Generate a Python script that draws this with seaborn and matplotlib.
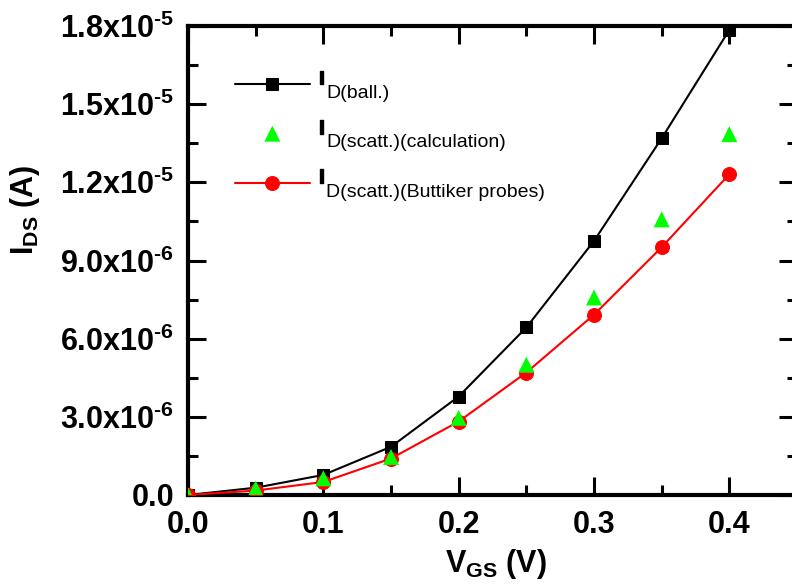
import matplotlib
matplotlib.use("Agg")
import matplotlib.pyplot as plt
import matplotlib.patheffects as pe
import seaborn as sns
from matplotlib.ticker import FixedLocator, FixedFormatter, MultipleLocator
from matplotlib.transforms import Affine2D, IdentityTransform

# ---- data ----
vgs = [0.0, 0.05, 0.10, 0.15, 0.20, 0.25, 0.30, 0.35, 0.40]
id_ball = [0.0, 0.28e-6, 0.77e-6, 1.85e-6, 3.78e-6, 6.43e-6, 9.75e-6, 13.69e-6, 17.85e-6]
id_scatt_calc = [0.0, 0.25e-6, 0.64e-6, 1.46e-6, 2.96e-6, 5.00e-6, 7.58e-6, 10.58e-6, 13.85e-6]
id_scatt_probe = [0.0, 0.17e-6, 0.50e-6, 1.40e-6, 2.82e-6, 4.70e-6, 6.92e-6, 9.51e-6, 12.31e-6]

legend_main = "I"
series_subs = ["D(ball.)", "D(scatt.)(calculation)", "D(scatt.)(Buttiker probes)"]

xticks = [0.0, 0.1, 0.2, 0.3, 0.4]
xtick_labels = ["0.0", "0.1", "0.2", "0.3", "0.4"]
yticks = [0.0, 3.0e-6, 6.0e-6, 9.0e-6, 1.2e-5, 1.5e-5, 1.8e-5]
ytick_labels = ["0.0", "3.0x10$^{\u20106}$", "6.0x10$^{\u20106}$", "9.0x10$^{\u20106}$",
                "1.2x10$^{\u20105}$", "1.5x10$^{\u20105}$", "1.8x10$^{\u20105}$"]

sns.set_style("ticks")
plt.rcParams["font.family"] = ["Liberation Sans", "DejaVu Sans"]
plt.rcParams["font.weight"] = "bold"
plt.rcParams["mathtext.fontset"] = "custom"
plt.rcParams["mathtext.bf"] = "Liberation Sans:bold"
plt.rcParams["mathtext.rm"] = "Liberation Sans:bold"
plt.rcParams["mathtext.default"] = "bf"
for k in ["text.color", "axes.labelcolor", "xtick.color", "ytick.color", "axes.edgecolor"]:
    plt.rcParams[k] = "black"

fig = plt.figure(figsize=(7.92, 5.86), dpi=100)
ax = fig.add_axes([188 / 792, (586 - 495) / 586, (797 - 188) / 792, (495 - 26) / 586])

sns.lineplot(x=vgs, y=id_ball, color="black", marker="s", markersize=9,
             markeredgecolor="black", linewidth=1.5, label=series_subs[0],
             ax=ax, zorder=2)
sns.scatterplot(x=vgs, y=id_scatt_calc, color="#00ff00", marker="^", s=11.5 ** 2,
                edgecolor="none", linewidth=0, label=series_subs[1], ax=ax, zorder=4)
sns.lineplot(x=vgs, y=id_scatt_probe, color="red", marker="o", markersize=10,
             markeredgecolor="red", linewidth=1.5, label=series_subs[2],
             ax=ax, zorder=3)

ax.set_xlim(0, 0.45)
ax.set_ylim(0, 1.8e-5)
ax.xaxis.set_major_locator(FixedLocator(xticks))
ax.xaxis.set_major_formatter(FixedFormatter(xtick_labels))
ax.xaxis.set_minor_locator(MultipleLocator(0.05))
ax.yaxis.set_major_locator(FixedLocator(yticks))
ax.yaxis.set_major_formatter(FixedFormatter(ytick_labels))
ax.yaxis.set_minor_locator(MultipleLocator(1.5e-6))

for s in ax.spines.values():
    s.set_linewidth(3)
    s.set_visible(True)
ax.tick_params(which="both", direction="in", top=True, right=True, width=2.2,
               labelsize=22)
ax.tick_params(which="major", length=13)
ax.tick_params(which="minor", length=7)
ax.tick_params(axis="x", pad=11)
ax.tick_params(axis="y", pad=10)

ax.set_xlabel(r"V$_{GS}$ (V)", fontsize=22, fontweight="bold")
ax.set_ylabel(r"I$_{DS}$ (A)", fontsize=22, fontweight="bold")
ax.xaxis.set_label_coords(0.505, -0.11)
ax.yaxis.set_label_coords(-0.24, 0.609)

LEG_FS = 14
handles, _ = ax.get_legend_handles_labels()
leg = ax.legend(handles, [legend_main] * len(handles), loc="upper left",
                bbox_to_anchor=(0.077, 0.890),
                frameon=False, borderaxespad=0, borderpad=0,
                handlelength=3.85, handletextpad=0.45, labelspacing=1.63,
                scatteryoffsets=[0.5],
                prop={"family": "Liberation Sans", "size": LEG_FS, "weight": "bold"})
# raise the big "I" so that its baseline sits at the handle level, and thicken it
for t in leg.get_texts():
    t.set_transform(t.get_transform() + Affine2D().translate(0, 7))
    t.set_path_effects([pe.withStroke(linewidth=1.0, foreground="black")])

fig.canvas.draw()
renderer = fig.canvas.get_renderer()
fs_px = LEG_FS * fig.dpi / 72
for t, sub in zip(leg.get_texts(), series_subs):
    bb = t.get_window_extent(renderer)
    baseline = bb.y0 + 0.212 * fs_px
    fig.text(bb.x1 + 2.5, baseline - 14, sub, transform=IdentityTransform(),
             ha="left", va="baseline", fontsize=14, fontweight="normal",
             family="Liberation Sans", color="black")

fig.savefig("out.png", dpi=100)
